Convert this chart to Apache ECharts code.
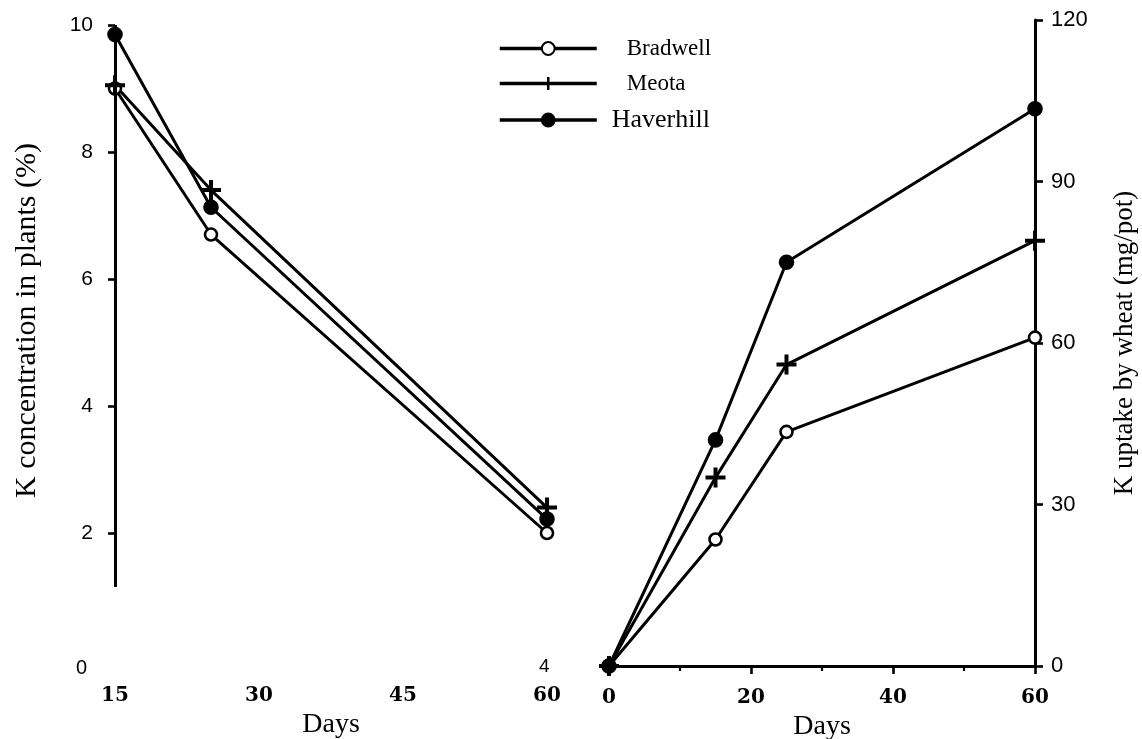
<!DOCTYPE html>
<html>
<head>
<meta charset="utf-8">
<script src="https://cdn.jsdelivr.net/npm/echarts@6/dist/echarts.min.js"></script>
<style>
  html, body { margin: 0; padding: 0; background: #fff; }
  #main { width: 1142px; height: 739px; }
</style>
</head>
<body>
<div id="main"></div>
<script>
// left panel: K concentration (%) vs days
const concDays = [15, 25, 60];
const concBradwell = [9.0, 6.7, 2.0];
const concMeota = [9.05, 7.4, 2.4];
const concHaverhill = [9.85, 7.13, 2.22];

// right panel: K uptake (mg/pot) vs days
const uptakeDays = [0, 15, 25, 60];
const uptakeBradwell = [0, 23.5, 43.5, 61];
const uptakeMeota = [0, 35, 56, 79];
const uptakeHaverhill = [0, 42, 75, 103.5];

const concTicks = [0, 10, 2];     // min, max, interval
const concTickMarks = [2, 4, 6, 8, 10];
const concDayTicks = [15, 60, 15];
const uptakeTicks = [0, 120, 30];
const uptakeDayTicks = [0, 60, 20];
const leftAxisBottom = 1.15;       // the scanned axis line stops short of 0

const serif = '"Liberation Serif", "Times New Roman", serif';
const sans = '"Liberation Sans", Arial, sans-serif';
const boldSerif = '"DejaVu Serif", serif';

const plus = 'path://M4,0 H6 V4 H10 V6 H6 V10 H4 V6 H0 V4 H4 Z';

function pairs(xs, ys) {
  return xs.map((x, i) => [x, ys[i]]);
}

function lineSeries(name, idx, xs, ys, symbol, size, fill) {
  return {
    name: name,
    type: 'line',
    xAxisIndex: idx,
    yAxisIndex: idx,
    data: pairs(xs, ys),
    symbol: symbol,
    symbolSize: size,
    showSymbol: true,
    lineStyle: { color: '#000', width: 3 },
    itemStyle: { color: fill, borderColor: '#000', borderWidth: symbol === plus ? 0 : 2.6 },
    z: 3
  };
}

const chart = echarts.init(document.getElementById('main'));

const option = {
  backgroundColor: '#fff',
  animation: false,
  legend: {
    orient: 'vertical',
    left: 498,
    top: 37,
    padding: 0,
    itemWidth: 97,
    itemHeight: 16,
    itemGap: 12,
    lineStyle: { width: 3.5 },
    data: [
      { name: 'Bradwell', textStyle: { fontSize: 23 } },
      { name: 'Meota', textStyle: { fontSize: 23 } },
      { name: 'Haverhill', textStyle: { fontSize: 26, padding: [0, 0, 0, 10] } }
    ],
    textStyle: { fontFamily: serif, color: '#000', padding: [0, 0, 0, 25] }
  },
  grid: [
    { left: 115, top: 25, width: 432, height: 635, outerBoundsMode: 'none' },
    { left: 609, top: 20, width: 426, height: 646, outerBoundsMode: 'none' }
  ],
  xAxis: [
    {
      type: 'value', gridIndex: 0,
      min: concDayTicks[0], max: concDayTicks[1], interval: concDayTicks[2],
      name: 'Days', nameLocation: 'middle', nameGap: 44,
      nameTextStyle: { fontFamily: serif, fontSize: 28, color: '#000' },
      axisLine: { show: false }, axisTick: { show: false },
      splitLine: { show: false },
      axisLabel: { margin: 26, fontFamily: boldSerif, fontWeight: 'bold', fontSize: 20, color: '#000' }
    },
    {
      type: 'value', gridIndex: 1,
      min: uptakeDayTicks[0], max: uptakeDayTicks[1], interval: uptakeDayTicks[2],
      name: 'Days', nameLocation: 'middle', nameGap: 42,
      nameTextStyle: { fontFamily: serif, fontSize: 28, color: '#000' },
      axisLine: { show: true, onZero: false, lineStyle: { color: '#000', width: 3 } },
      axisTick: { show: true, length: 8, lineStyle: { color: '#000', width: 2.6 } },
      minorTick: { show: true, splitNumber: 2, length: 5, lineStyle: { color: '#000', width: 2.2 } },
      splitLine: { show: false },
      axisLabel: { margin: 22, fontFamily: boldSerif, fontWeight: 'bold', fontSize: 20, color: '#000' }
    }
  ],
  yAxis: [
    {
      type: 'value', gridIndex: 0,
      min: concTicks[0], max: concTicks[1], interval: concTicks[2],
      name: 'K concentration in plants (%)', nameLocation: 'middle', nameGap: 73, nameRotate: 90,
      nameTextStyle: { fontFamily: serif, fontSize: 30, color: '#000', padding: [0, 0, 0, 44] },
      axisLine: { show: false },
      axisTick: { show: true, length: 7, customValues: concTickMarks, lineStyle: { color: '#000', width: 2.6 } },
      splitLine: { show: false },
      axisLabel: {
        margin: 22, fontFamily: sans, fontSize: 21, color: '#000',
        formatter: v => (v === 0 ? '{low|0}' : String(v)),
        rich: { low: { fontFamily: sans, fontSize: 20, color: '#000', padding: [16, 6, 0, 0] } }
      }
    },
    {
      type: 'value', gridIndex: 1, position: 'right',
      min: uptakeTicks[0], max: uptakeTicks[1], interval: uptakeTicks[2],
      name: 'K uptake by wheat (mg/pot)', nameLocation: 'middle', nameGap: 76, nameRotate: 90,
      nameTextStyle: { fontFamily: serif, fontSize: 27, color: '#000' },
      axisLine: { show: true, onZero: false, lineStyle: { color: '#000', width: 3 } },
      axisTick: { show: true, length: 8, lineStyle: { color: '#000', width: 2.6 } },
      splitLine: { show: false },
      axisLabel: { margin: 16, fontFamily: sans, fontSize: 22, color: '#000' }
    }
  ],
  series: [
    Object.assign(lineSeries('Bradwell', 0, concDays, concBradwell, 'circle', 12, '#fff'), {
      markLine: {
        silent: true, symbol: 'none', label: { show: false },
        lineStyle: { color: '#000', width: 3, type: 'solid' },
        data: [[{ coord: [concDays[0], leftAxisBottom] }, { coord: [concDays[0], concTicks[1]] }]]
      }
    }),
    lineSeries('Meota', 0, concDays, concMeota, plus, 20, '#000'),
    lineSeries('Haverhill', 0, concDays, concHaverhill, 'circle', 13, '#000'),
    lineSeries('Bradwell', 1, uptakeDays, uptakeBradwell, 'circle', 12, '#fff'),
    lineSeries('Meota', 1, uptakeDays, uptakeMeota, plus, 20, '#000'),
    lineSeries('Haverhill', 1, uptakeDays, uptakeHaverhill, 'circle', 13, '#000')
  ],
  graphic: [
    { type: 'text', left: 539, top: 657, style: { text: '4', fontFamily: sans, fontSize: 19, fill: '#000' } }
  ]
};

chart.setOption(option);
</script>
</body>
</html>
